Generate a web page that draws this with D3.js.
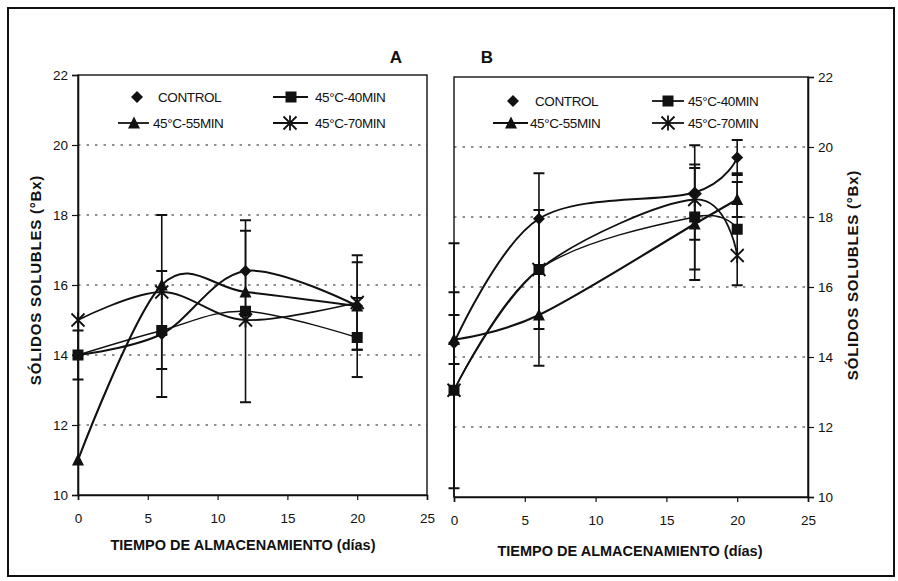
<!DOCTYPE html>
<meta charset="utf-8">
<script src="https://d3js.org/d3.v7.min.js"></script>
<style>
  body { margin: 0; background: #fff; }
  svg text { font-family: "Liberation Sans", Arial, sans-serif; fill: #111; }
</style>
<div id="my_dataviz"></div>
<script>

// series and ticks
const seriesNames = ["CONTROL", "45°C-40MIN", "45°C-55MIN", "45°C-70MIN"];
const yTicks = [10, 12, 14, 16, 18, 20, 22];
const gridTicks = [12, 14, 16, 18, 20];
const xTicks = [0, 5, 10, 15, 20, 25];

// panel A (days, means, error half-widths)
const daysA = [0, 6, 12, 20];
const controlA = [14.0, 14.6, 16.4, 15.4];
const min40A   = [14.0, 14.7, 15.25, 14.5];
const min55A   = [11.0, 16.0, 15.8, 15.4];
const min70A   = [15.0, 15.8, 15.0, 15.5];
const controlErrA = [0, 1.8, 1.15, 1.25];
const min40ErrA   = [0.7, 0, 2.6, 1.13];
const min55ErrA   = [0, 0, 0, 0];
const min70ErrA   = [0, 2.2, 0, 1.35];

// panel B
const daysB = [0, 6, 17, 20];
const controlB = [14.4, 17.95, 18.7, 19.7];
const min40B   = [13.05, 16.5, 18.0, 17.65];
const min55B   = [14.5, 15.2, 17.8, 18.5];
const min70B   = [13.05, 16.5, 18.5, 16.9];
const controlErrB = [0, 0, 1.35, 0.5];
const min40ErrB   = [2.8, 2.75, 1.5, 1.6];
const min55ErrB   = [0.7, 0, 1.6, 0.5];
const min70ErrB   = [4.2, 1.7, 0, 0];

const svg = d3.select("#my_dataviz")
  .append("svg")
    .attr("width", 898)
    .attr("height", 581);

// outer frame
svg.append("rect")
  .attr("x", 8).attr("y", 8)
  .attr("width", 886).attr("height", 568)
  .attr("fill", "none")
  .attr("stroke", "#111")
  .attr("stroke-width", 2);

// marker shapes
function marker(g, type, cx, cy) {
  if (type == 0) {
    g.append("path")
      .attr("d", `M${cx},${cy-6}L${cx+6},${cy}L${cx},${cy+6}L${cx-6},${cy}Z`)
      .attr("fill", "#111");
  } else if (type == 1) {
    g.append("rect")
      .attr("x", cx-5.5).attr("y", cy-5.5).attr("width", 11).attr("height", 11)
      .attr("fill", "#111");
  } else if (type == 2) {
    g.append("path")
      .attr("d", `M${cx},${cy-6.5}L${cx+6},${cy+5.5}L${cx-6},${cy+5.5}Z`)
      .attr("fill", "#111");
  } else {
    g.append("path")
      .attr("d", `M${cx-6.5},${cy-6.5}L${cx+6.5},${cy+6.5}M${cx+6.5},${cy-6.5}L${cx-6.5},${cy+6.5}M${cx},${cy-7.5}L${cx},${cy+7.5}`)
      .attr("stroke", "#111").attr("stroke-width", 1.8).attr("fill", "none");
  }
}

const lineWidths = [2, 1.4, 2.1, 1.8];

function drawPanel(p) {
  const x = d3.scaleLinear().domain([0, 25]).range([p.left, p.right]);
  const y = d3.scaleLinear().domain([10, 22]).range([p.bottom, p.top]);
  const g = svg.append("g");

  // dotted grid
  g.selectAll(".grid")
    .data(gridTicks)
    .join("line")
      .attr("x1", p.left).attr("x2", p.right)
      .attr("y1", d => y(d)).attr("y2", d => y(d))
      .attr("stroke", "#222")
      .attr("stroke-width", 1.1)
      .attr("stroke-dasharray", "2.5,6");

  // box
  g.append("rect")
    .attr("x", p.left).attr("y", p.top)
    .attr("width", p.right - p.left).attr("height", p.bottom - p.top)
    .attr("fill", "none").attr("stroke", "#111").attr("stroke-width", 1.4);

  // axes
  const xAxis = g.append("g")
    .attr("transform", `translate(0,${p.bottom})`)
    .call(d3.axisBottom(x).tickValues(xTicks).tickSize(5).tickPadding(13));
  const yAxis = g.append("g")
    .attr("transform", `translate(${p.yAxisRight ? p.right : p.left},0)`)
    .call((p.yAxisRight ? d3.axisRight(y) : d3.axisLeft(y)).tickValues(yTicks).tickSize(6).tickPadding(4));
  [xAxis, yAxis].forEach(a => {
    a.select(".domain").attr("stroke", "#111").attr("stroke-width", 1.6);
    a.selectAll(".tick line").attr("stroke", "#111").attr("stroke-width", 1.2);
    a.selectAll("text").attr("font-size", 13.5).attr("fill", "#111")
      .style("font-family", '"Liberation Sans", Arial, sans-serif');
  });

  // axis titles
  g.append("text")
    .text("TIEMPO DE ALMACENAMIENTO (días)")
    .attr("x", p.xTitle[0]).attr("y", p.xTitle[1])
    .attr("text-anchor", "middle")
    .attr("dominant-baseline", "central")
    .attr("font-size", 14.5).attr("font-weight", "bold");
  g.append("text")
    .text("SÓLIDOS SOLUBLES (°Bx)")
    .attr("transform", `translate(${p.yTitle[0]},${p.yTitle[1]}) rotate(-90)`)
    .attr("text-anchor", "middle")
    .attr("dominant-baseline", "central")
    .attr("font-size", 15).attr("font-weight", "bold")
    .attr("letter-spacing", 0.8);

  // panel letter
  g.append("text")
    .text(p.name)
    .attr("x", p.letter[0]).attr("y", p.letter[1])
    .attr("text-anchor", "middle")
    .attr("dominant-baseline", "central")
    .attr("font-size", 17).attr("font-weight", "bold");

  const line = d3.line()
    .x(d => x(d[0]))
    .y(d => y(d[1]))
    .curve(d3.curveCardinal.tension(0));

  p.series.forEach((vals, i) => {
    const pts = p.days.map((d, j) => [d, vals[j]]);
    g.append("path")
      .datum(pts)
      .attr("d", line)
      .attr("fill", "none")
      .attr("stroke", "#111")
      .attr("stroke-width", lineWidths[i]);

    // error bars, clipped to the plot range
    p.errors[i].forEach((e, j) => {
      if (!e) return;
      const cx = x(p.days[j]);
      const lo = vals[j] - e, hi = vals[j] + e;
      g.append("line")
        .attr("x1", cx).attr("x2", cx)
        .attr("y1", y(Math.max(lo, 10))).attr("y2", y(Math.min(hi, 22)))
        .attr("stroke", "#111").attr("stroke-width", 1.6);
      [lo, hi].forEach(v => {
        if (v < 10 || v > 22) return;
        g.append("line")
          .attr("x1", cx - 5.5).attr("x2", cx + 5.5)
          .attr("y1", y(v)).attr("y2", y(v))
          .attr("stroke", "#111").attr("stroke-width", 2);
      });
    });
  });

  p.series.forEach((vals, i) => {
    p.days.forEach((d, j) => marker(g, i, x(d), y(vals[j])));
  });

  // legend
  const lg = svg.append("g");
  p.legend.forEach((it, i) => {
    if (it.line) {
      lg.append("line")
        .attr("x1", it.line[0]).attr("x2", it.line[1])
        .attr("y1", it.y).attr("y2", it.y)
        .attr("stroke", "#111").attr("stroke-width", 1.8);
    }
    marker(lg, i, it.mx, it.y);
    lg.append("text")
      .text(seriesNames[i])
      .attr("x", it.tx).attr("y", it.y)
      .attr("dominant-baseline", "central")
      .attr("font-size", 13.5)
      .attr("letter-spacing", -0.4);
  });
}

drawPanel({
  name: "A",
  left: 78, right: 427, top: 75, bottom: 495,
  yAxisRight: false,
  days: daysA,
  series: [controlA, min40A, min55A, min70A],
  errors: [controlErrA, min40ErrA, min55ErrA, min70ErrA],
  xTitle: [243, 545],
  yTitle: [35, 280],
  letter: [396, 57],
  legend: [
    {mx: 137, tx: 158, y: 97},
    {line: [273, 308], mx: 291, tx: 315, y: 97},
    {line: [118, 149], mx: 134, tx: 153, y: 123},
    {line: [273, 308], mx: 290, tx: 315, y: 123}
  ]
});

drawPanel({
  name: "B",
  left: 454, right: 808, top: 77, bottom: 497,
  yAxisRight: true,
  days: daysB,
  series: [controlB, min40B, min55B, min70B],
  errors: [controlErrB, min40ErrB, min55ErrB, min70ErrB],
  xTitle: [630, 551],
  yTitle: [852, 275],
  letter: [487, 57],
  legend: [
    {mx: 513, tx: 535, y: 101},
    {line: [652, 684], mx: 668, tx: 688, y: 101},
    {line: [493, 528], mx: 511, tx: 530, y: 123},
    {line: [652, 684], mx: 668, tx: 688, y: 123}
  ]
});

</script>
